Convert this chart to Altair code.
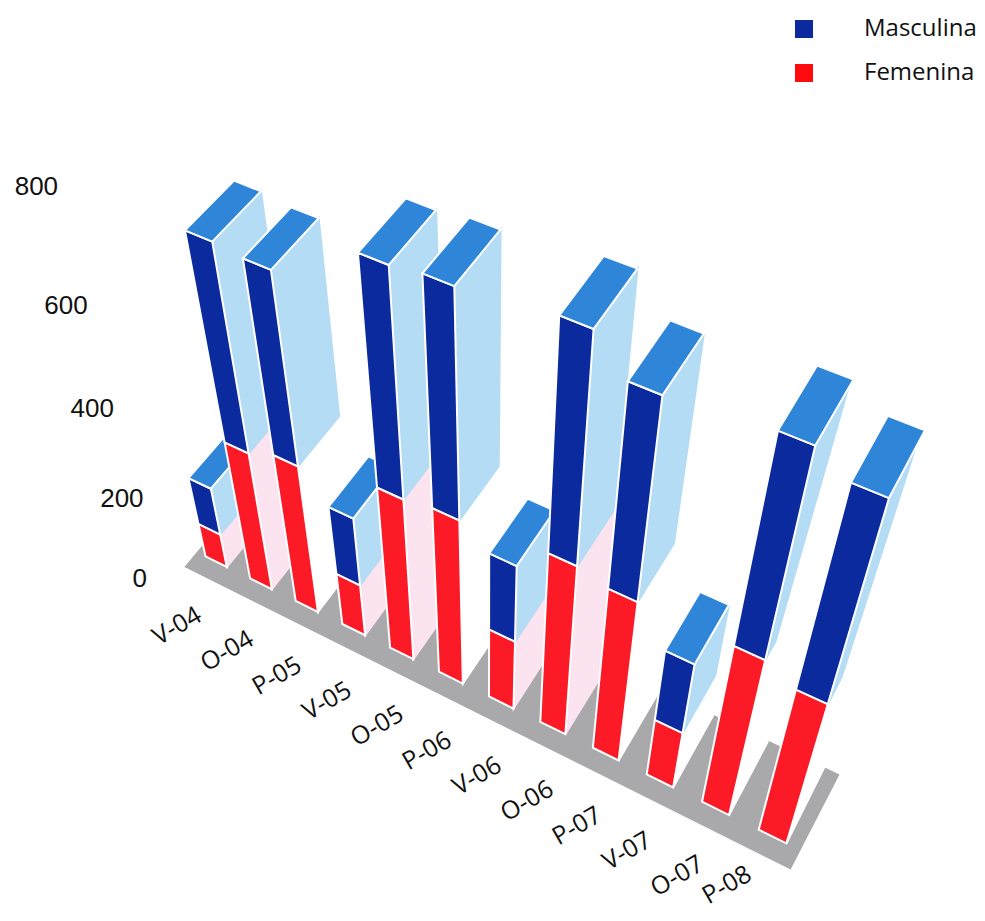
import altair as alt
import pandas as pd

categories = ["V-04", "O-04", "P-05", "V-05", "O-05", "P-06", "V-06", "O-06", "P-07", "V-07", "O-07", "P-08"]
femenina = [84, 328, 351, 130, 385, 395, 176, 411, 394, 149, 394, 363]
masculina = [112, 401, 371, 159, 425, 423, 177, 426, 385, 169, 402, 400]
ticks = [0, 200, 400, 600, 800]
legend_labels = ["Masculina", "Femenina"]

# perspective of the picture: (bar index, depth, value/100) -> page pixel
AX = [206.43843, 41.73901, 43.1305, -14.23559]
AY = [556.86664, 15.48701, -34.73811, -53.93731]
AW = [1.0, -0.01128, 0.02143, -0.02918]
BAR_W = 0.46

# how far the side wall reaches back at the top / at the split, per bar
side_top = [1, 1, 1, 1, 1, 1, 1, 1, 1, 1, 0.85, 0.72]
side_mid = [1, 1, 1, 1, 1, 1, 1, 1, 1, 1, 0.30, 0.42]
side_low = 1.28
low_side_colour = ["#fbe3ef", "#fbe3ef", "#ffffff", "#fbe3ef", "#fbe3ef", "#ffffff",
                    "#fbe3ef", "#fbe3ef", "#ffffff", "#ffffff", "#ffffff", "#ffffff"]

BLUE, RED, TOP, SIDE, GREY = "#0a2a9e", "#fb1a26", "#2f86d9", "#b4dcf4", "#a9a9ab"


def project(x, d, v):
    v = v / 100
    w = AW[0] + AW[1] * x + AW[2] * d + AW[3] * v
    return ((AX[0] + AX[1] * x + AX[2] * d + AX[3] * v) / w,
            (AY[0] + AY[1] * x + AY[2] * d + AY[3] * v) / w)


rows = []


def poly(name, corners, fill, stroke):
    for k, (x, d, v) in enumerate(corners):
        px, py = project(x, d, v)
        rows.append(dict(poly=name, k=k, px=px, py=py, fill=fill, stroke=stroke))


poly("floor", [(-0.2, -0.3, 0), (11.68, -0.3, 0), (11.71, 1.28, 0), (-0.2, 1.28, 0)], GREY, GREY)
for i, c in enumerate(categories):
    f, t = femenina[i], femenina[i] + masculina[i]
    a, b = i - 0.02, i + BAR_W
    low = low_side_colour[i]
    poly(c + "s1", [(b, 0, 0), (b, 0, f), (b, side_mid[i], f), (b, side_low, 0)], low, low)
    poly(c + "s2", [(b, 0, f), (b, 0, t), (b, side_top[i], t), (b, side_mid[i], f)], SIDE, SIDE)
    poly(c + "f1", [(a, 0, 0), (b, 0, 0), (b, 0, f), (a, 0, f)], RED, "#ffffff")
    poly(c + "f2", [(a, 0, f), (b, 0, f), (b, 0, t), (a, 0, t)], BLUE, "#ffffff")
    poly(c + "t", [(a, 0, t), (b, 0, t), (b, 1, t), (a, 1, t)], TOP, "#ffffff")
df = pd.DataFrame(rows)

W, H = 969, 905
xs = alt.Scale(domain=[8, 8 + W], range=[0, W], nice=False, zero=False)
ys = alt.Scale(domain=[8, 8 + H], range=[0, H], nice=False, zero=False)
X = lambda: alt.X("px:Q", scale=xs, axis=None)
Y = lambda: alt.Y("py:Q", scale=ys, axis=None)

shapes = alt.Chart(df).mark_line(interpolate="linear-closed", strokeWidth=2).encode(
    x=X(), y=Y(), order="k:Q", detail="poly:N",
    fill=alt.Fill("fill:N", scale=None), stroke=alt.Stroke("stroke:N", scale=None),
)

# value labels run along the tilted axis, category labels along a straight line
tick_dx = [0, 4, -1, 1, 4]
tick_df = pd.DataFrame([dict(label=str(t),
                             px=project(-0.777, -0.825, t)[0] + tick_dx[n],
                             py=project(-0.777, -0.825, t)[1])
                        for n, t in enumerate(ticks)])
cat_df = pd.DataFrame([dict(label=c, px=177 + 50 * i, py=min(626 + 25 * i, 885)) for i, c in enumerate(categories)])
tick_text = alt.Chart(tick_df).mark_text(font="Liberation Sans", fontSize=26, color="#111111", align="center", baseline="middle").encode(x=X(), y=Y(), text="label:N")
cat_text = alt.Chart(cat_df).mark_text(font="Open Sans", fontSize=25, color="#111111", align="center", baseline="middle", angle=330).encode(x=X(), y=Y(), text="label:N")

leg_df = pd.DataFrame(dict(label=legend_labels, px=[804, 804], tx=[864, 864], py=[29, 73], colour=[BLUE, "#fe0a0f"]))
leg_sq = alt.Chart(leg_df).mark_square(size=324, opacity=1).encode(x=X(), y=Y(), fill=alt.Fill("colour:N", scale=None))
leg_tx = alt.Chart(leg_df).mark_text(font="Open Sans", fontSize=24, color="#111111", align="left", baseline="middle").encode(
    x=alt.X("tx:Q", scale=xs, axis=None), y=Y(), text="label:N")

chart = alt.layer(shapes, tick_text, cat_text, leg_sq, leg_tx).properties(
    width=W, height=H, padding=0, autosize=alt.AutoSizeParams(type="none")
).configure_view(stroke=None)
chart.save("out.html", embed_options={"renderer": "svg", "actions": False})
